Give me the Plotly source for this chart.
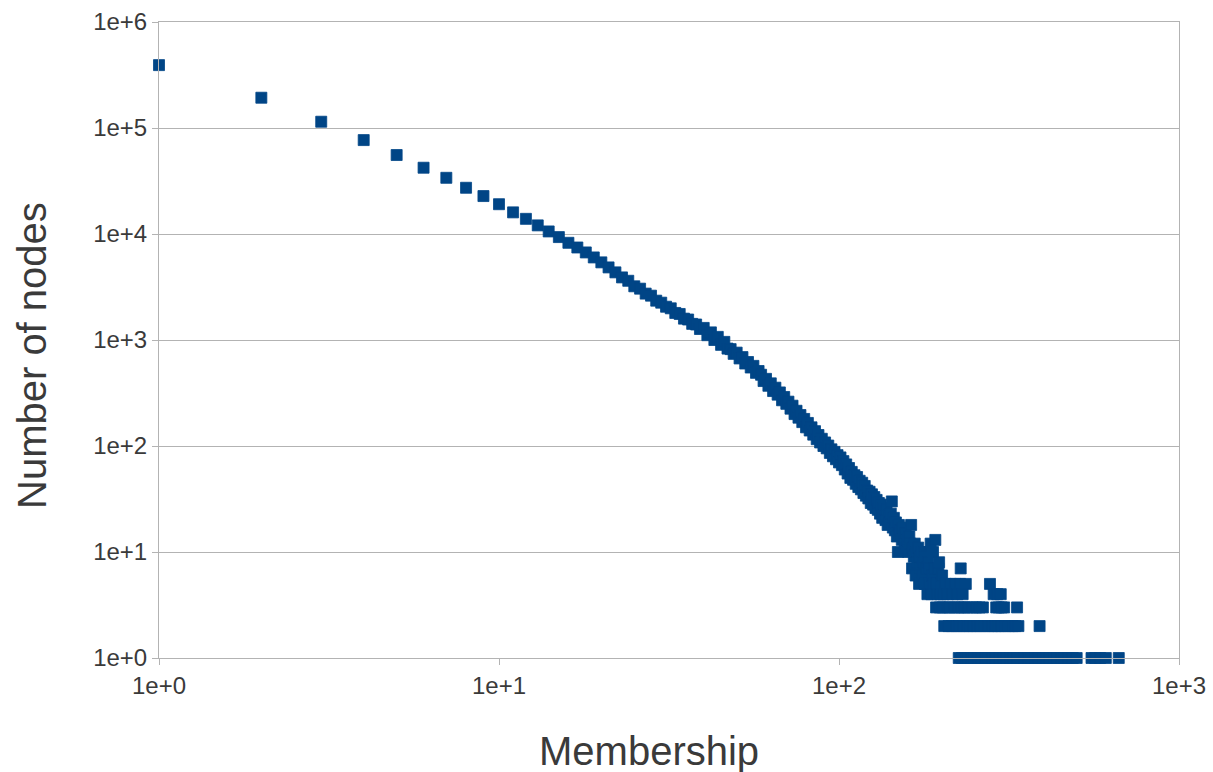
import plotly.graph_objects as go

# ---- data ----
membership_main = list(range(1, 101))
nodes_main = [
    392000, 193000, 114600, 76900, 55600, 42200, 33900, 27300, 22800, 19100,
    16000, 13900, 12060, 10570, 9350, 8260, 7460, 6700, 6010, 5400,
    4840, 4345, 3895, 3620, 3210, 3050, 2740, 2620, 2350, 2250,
    2060, 1990, 1800, 1760, 1590, 1560, 1420, 1400, 1270, 1300,
    1110, 1180, 1000, 1070, 900, 960, 830, 820, 740, 760,
    670, 690, 600, 620, 550, 570, 490, 510, 470, 410,
    430, 370, 390, 330, 355, 305, 320, 270, 290, 250,
    262, 225, 240, 200, 215, 185, 196, 168, 180, 150,
    165, 140, 150, 128, 138, 116, 127, 108, 117, 100,
    108, 95, 101, 86, 93, 80, 88, 75, 82, 70,
]

membership_mid = list(range(101, 201))
nodes_mid = [
    78, 66, 72, 60, 67, 55, 62, 50, 57, 48,
    53, 44, 51, 41, 47, 39, 45, 36, 42, 34,
    38, 32, 37, 29, 35, 28, 33, 26, 31, 25,
    29, 23, 28, 21, 26, 22, 20, 25, 18, 22,
    19, 23, 30, 17, 21, 16, 19, 14, 10, 18,
    15, 16, 13, 17, 14, 12, 15, 11, 13, 10,
    14, 12, 18, 7, 11, 9, 12, 6, 10, 8,
    11, 5, 9, 7, 10, 6, 8, 10, 5, 9,
    7, 4, 8, 5, 7, 12, 4, 6, 10, 5,
    7, 13, 3, 5, 4, 7, 8, 3, 4, 5,
]

tail_count7 = [228]
tail_count6 = [201]
tail_count5 = [206, 213, 220, 227, 236, 278]
tail_count4 = [203, 209, 216, 223, 231, 285, 292, 299]
tail_count3 = [202, 208, 212, 218, 224, 229, 234, 240, 247, 253, 259, 265,
               290, 295, 301, 306, 334]
tail_count2 = [204, 210, 215, 221, 226, 232, 238, 243, 249, 255, 261, 268,
               275, 282, 288, 294, 300, 308, 316, 324, 330, 337, 389]
tail_count1 = [225, 230, 235, 241, 245, 251, 257, 263, 270, 276, 283, 289,
               297, 304, 311, 319, 327, 335, 343, 351, 360, 369, 378, 387,
               397, 407, 417, 428, 439, 450, 462, 474, 487, 500, 553, 567,
               586, 609, 665]

x_tick_vals = [1, 10, 100, 1000]
x_tick_text = ["1e+0", "1e+1", "1e+2", "1e+3"]
y_tick_vals = [1, 10, 100, 1000, 10000, 100000, 1000000]
y_tick_text = ["1e+0", "1e+1", "1e+2", "1e+3", "1e+4", "1e+5", "1e+6"]

# ---- assemble ----
xs = membership_main + membership_mid
ys = nodes_main + nodes_mid
for cnt, arr in [(7, tail_count7), (6, tail_count6), (5, tail_count5),
                 (4, tail_count4), (3, tail_count3), (2, tail_count2),
                 (1, tail_count1)]:
    xs += arr
    ys += [cnt] * len(arr)

W, H = 1213, 772
L, R, T, B = 159, 34, 22, 114

fig = go.Figure()
fig.add_trace(go.Scatter(
    x=xs, y=ys, mode="markers",
    marker=dict(symbol="square", size=11, color="#004586",
                line=dict(width=0.8, color="#004586")),
    cliponaxis=False, showlegend=False,
))

grey = "#b3b3b3"
txt = "#3a3a3a"
font_family = "Liberation Sans, Arial, sans-serif"

fig.update_xaxes(
    type="log", range=[0, 3], tickvals=x_tick_vals, ticktext=x_tick_text,
    showgrid=False, showline=True, linecolor=grey, linewidth=1, mirror=True,
    ticks="outside", ticklen=6, tickcolor=grey, zeroline=False,
    automargin=False,
    tickfont=dict(size=24, color=txt, family=font_family),
)
fig.update_yaxes(
    type="log", range=[0, 6], tickvals=y_tick_vals, ticktext=y_tick_text,
    showgrid=True, gridcolor=grey, gridwidth=1,
    showline=True, linecolor=grey, linewidth=1, mirror=True,
    ticks="outside", ticklen=6, tickcolor=grey, zeroline=False,
    automargin=False,
    tickfont=dict(size=24, color=txt, family=font_family),
)

plot_w = W - L - R
plot_h = H - T - B
fig.update_layout(
    width=W, height=H,
    margin=dict(l=L, r=R, t=T, b=B, pad=0, autoexpand=False),
    paper_bgcolor="white", plot_bgcolor="white",
    font=dict(family=font_family, color=txt),
    annotations=[
        dict(text="Membership", xref="paper", yref="paper",
             x=(649 - L) / plot_w, y=(H - B - 751) / plot_h,
             xanchor="center", yanchor="middle", showarrow=False,
             font=dict(size=40, color=txt, family=font_family)),
        dict(text="Number of nodes", xref="paper", yref="paper",
             x=(32 - L) / plot_w, y=(H - B - 356) / plot_h,
             xanchor="center", yanchor="middle", showarrow=False,
             textangle=-90,
             font=dict(size=40, color=txt, family=font_family)),
    ],
)

fig.write_html("out.html")
